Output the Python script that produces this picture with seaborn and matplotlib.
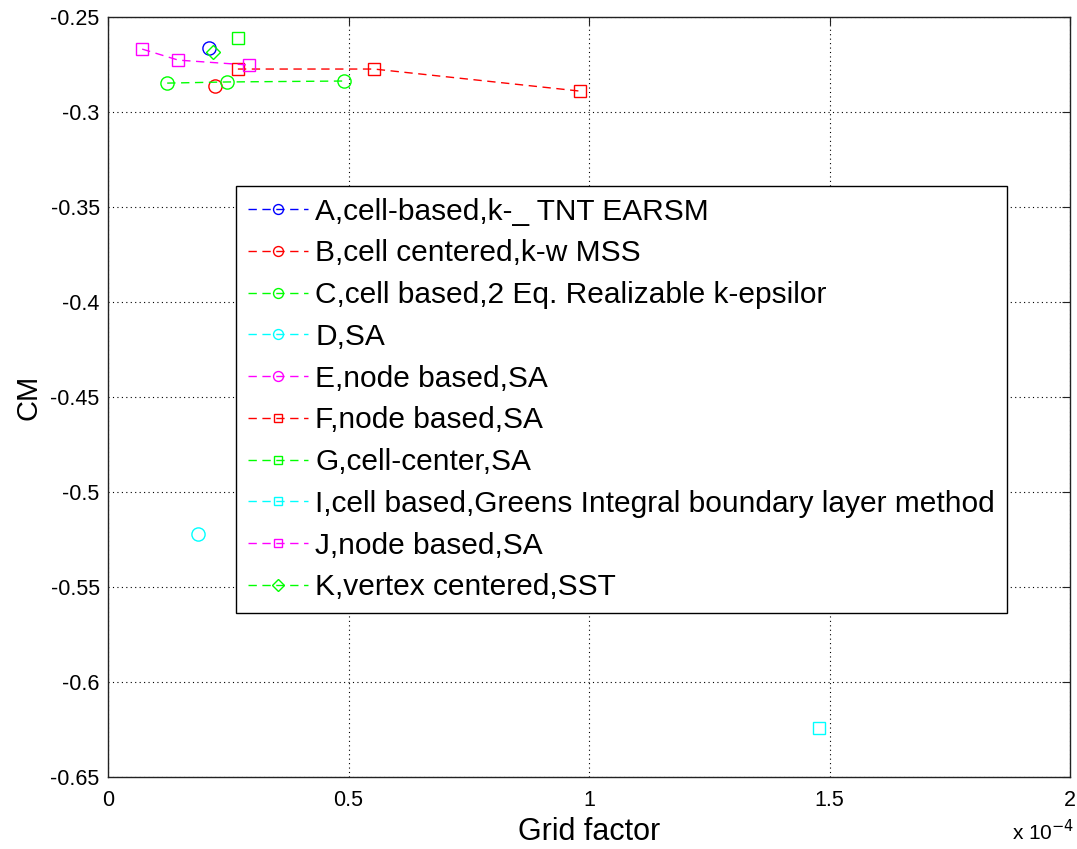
import seaborn as sns
import matplotlib.pyplot as plt
import pandas as pd

# grid factor in units of 1e-4, CM values
labels = ["A,cell-based,k-_ TNT EARSM",
          "B,cell centered,k-w MSS",
          "C,cell based,2 Eq. Realizable k-epsilor",
          "D,SA",
          "E,node based,SA",
          "F,node based,SA",
          "G,cell-center,SA",
          "I,cell based,Greens Integral boundary layer method",
          "J,node based,SA",
          "K,vertex centered,SST"]

a_x = [0.210]
a_cm = [-0.2663]
b_x = [0.222]
b_cm = [-0.2864]
c_x = [0.123, 0.247, 0.491]
c_cm = [-0.2848, -0.2842, -0.2837]
d_x = [0.187]
d_cm = [-0.5219]
e_x = []
e_cm = []
f_x = [0.270, 0.553, 0.981]
f_cm = [-0.2774, -0.2774, -0.2890]
g_x = [0.270]
g_cm = [-0.2611]
i_x = [1.478]
i_cm = [-0.6240]
j_x = [0.071, 0.146, 0.293]
j_cm = [-0.2669, -0.2727, -0.2753]
k_x = [0.218]
k_cm = [-0.2684]

xs = [a_x, b_x, c_x, d_x, e_x, f_x, g_x, i_x, j_x, k_x]
ys = [a_cm, b_cm, c_cm, d_cm, e_cm, f_cm, g_cm, i_cm, j_cm, k_cm]
colors = ["#0000ff", "#ff0000", "#00ff00", "#00ffff", "#ff00ff",
          "#ff0000", "#00ff00", "#00ffff", "#ff00ff", "#00ff00"]
markers = ["o", "o", "o", "o", "o", "s", "s", "s", "s", "D"]

sns.set_style("white")
plt.rcParams['font.family'] = ['Liberation Sans', 'DejaVu Sans']
plt.rcParams['axes.unicode_minus'] = False
plt.rcParams['text.color'] = 'black'
plt.rcParams['axes.labelcolor'] = 'black'
plt.rcParams['xtick.color'] = 'black'
plt.rcParams['ytick.color'] = 'black'

fig = plt.figure(figsize=(10.77, 8.49), dpi=100)
ax = fig.add_axes([0.1003, 0.0848, 0.8932, 0.8952])

for lab, x, y, c, m in zip(labels, xs, ys, colors, markers):
    ms = 7.5 if m == "D" else 9.5
    if m == "s":
        ms = 8.5
    kw = dict(color=c, marker=m, linestyle=(0, (6, 4)), linewidth=1,
              markerfacecolor="none", markeredgecolor=c, markersize=ms,
              markeredgewidth=1, label=lab)
    if len(x) == 0:
        ax.plot([], [], **kw)
    else:
        df = pd.DataFrame({"x": x, "cm": y})
        sns.lineplot(data=df, x="x", y="cm", ax=ax, sort=False, **kw)

ax.set_xlim(0, 2)
ax.set_ylim(-0.65, -0.25)
ax.set_xticks([0, 0.5, 1, 1.5, 2])
ax.set_xticklabels(["0", "0.5", "1", "1.5", "2"])
ax.set_yticks([-0.65, -0.6, -0.55, -0.5, -0.45, -0.4, -0.35, -0.3, -0.25])
ax.set_yticklabels(["-0.65", "-0.6", "-0.55", "-0.5", "-0.45", "-0.4",
                    "-0.35", "-0.3", "-0.25"])
ax.grid(True, color="black", linestyle=(0, (1, 3)), linewidth=0.8)
ax.tick_params(direction="in", length=6, labelsize=15.5, top=True, right=True,
               color="#222222")
ax.tick_params(axis="y", pad=6)
ax.tick_params(axis="x", pad=9)
for s in ax.spines.values():
    s.set_color("#222222")
    s.set_linewidth(1)

ax.set_xlabel("Grid factor", fontsize=22, labelpad=5)
ax.set_ylabel("CM", fontsize=21, labelpad=6)
fig.text(0.94, 0.01, "x 10$^{-4}$", fontsize=15)

leg = ax.legend(loc="upper left", bbox_to_anchor=(0.133, 0.778),
                fontsize=21.5, frameon=True, fancybox=False, framealpha=1,
                edgecolor="black", borderaxespad=0, borderpad=0.4,
                handlelength=2.0, handletextpad=0.25, labelspacing=0.46,
                markerscale=0.75, numpoints=1)
leg.get_frame().set_linewidth(1)

fig.savefig("out.png", dpi=100)
